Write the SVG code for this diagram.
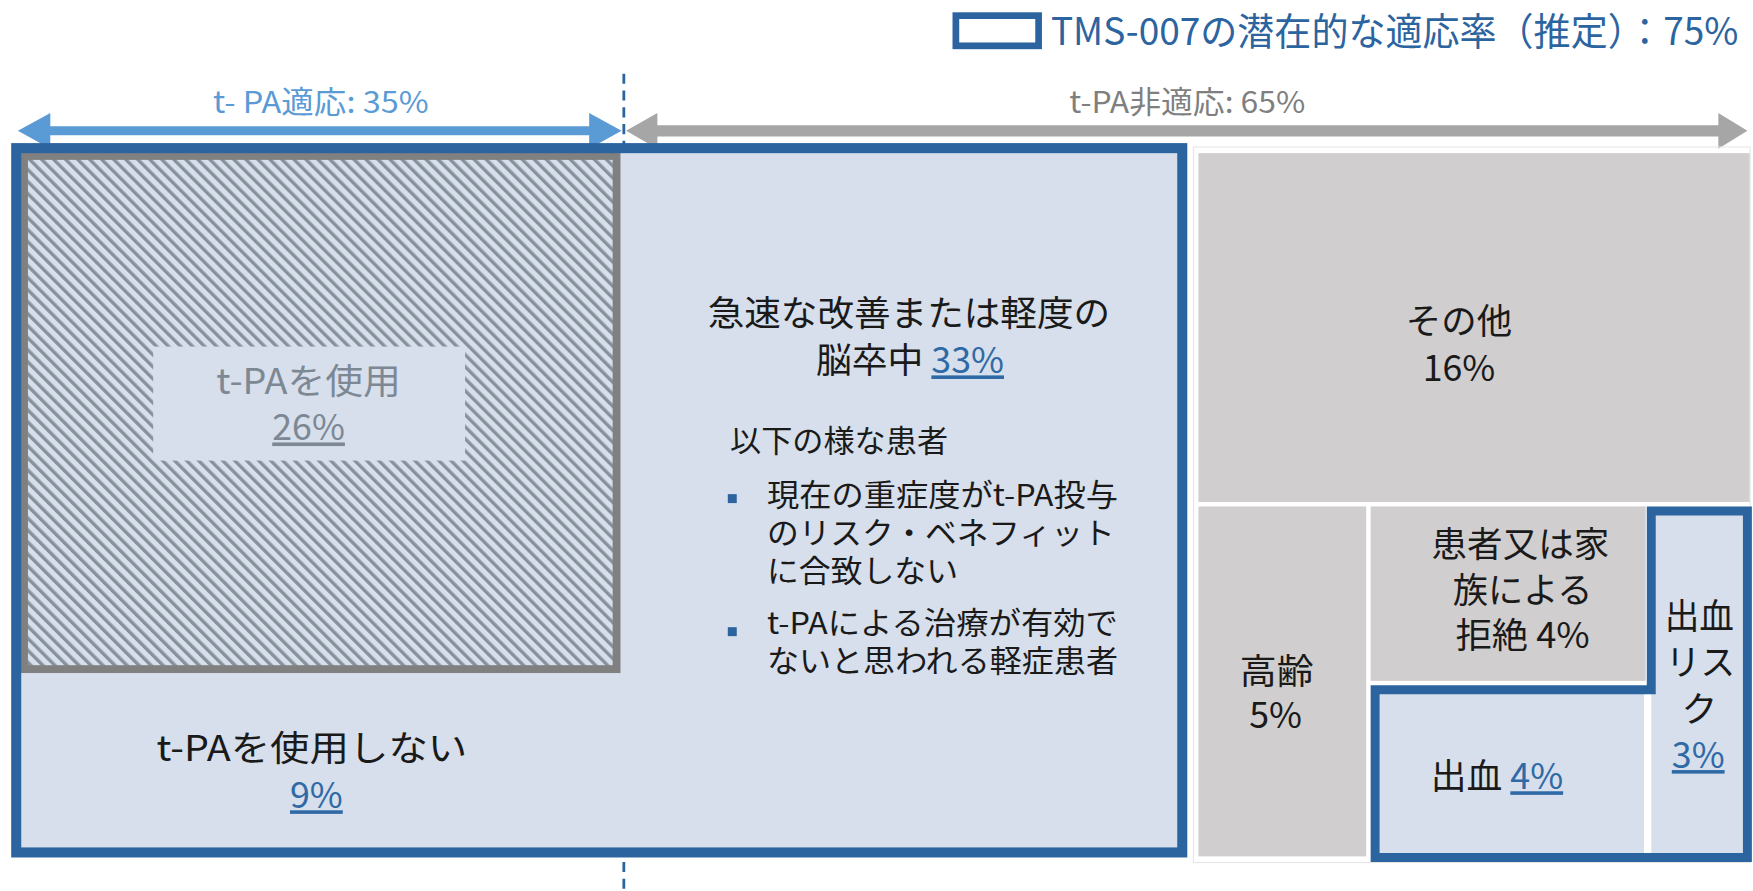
<svg xmlns="http://www.w3.org/2000/svg" width="1753" height="891" viewBox="0 0 1753 891">
<defs>
<pattern id="hatch" patternUnits="userSpaceOnUse" width="7.6" height="7.6" patternTransform="rotate(-45)">
<rect width="7.6" height="7.6" fill="#d6dfeb"/>
<rect x="0" y="0" width="3.0" height="7.6" fill="#87919c"/>
</pattern>
<style>
text{font-family:"Noto Sans CJK JP","Noto Sans",sans-serif;}
.t{font-size:32px;fill:#1a1a1a;text-anchor:middle;}
.s{font-size:27px;fill:#1a1a1a;}
.pc{fill:#2f6aa6;text-decoration:underline;}
.blue{fill:none;stroke:#2c64a0;stroke-width:9;}
.grey{fill:#d0cece;}
.light{fill:#d6dfeb;}
</style>
</defs>
<rect width="1753" height="891" fill="#ffffff"/>
<g transform="scale(1.11798)">

<g id="legend">
<rect x="855" y="14" width="74" height="27" fill="#ffffff" stroke="#2c64a0" stroke-width="6"/>
<text x="940" y="40" font-size="34" fill="#2c64a0" textLength="615" lengthAdjust="spacingAndGlyphs">TMS-007の潜在的な適応率（推定）：75%</text>
</g>

<g id="connectors">
<path d="M16,117 L45,101 L45,113 L527,113 L527,101 L556,117 L527,133 L527,121 L45,121 L45,133 Z" fill="#5b9bd5"/>
<path d="M560,117 L588,101 L588,112 L1537,112 L1537,101 L1563,117 L1537,133 L1537,122 L588,122 L588,133 Z" fill="#a6a6a6"/>
<line x1="558" y1="66" x2="558" y2="800" stroke="#2c64a0" stroke-width="2.5" stroke-dasharray="9,6"/>
</g>

<g id="label-tpa">
<text x="287" y="101" font-size="27" fill="#5b9bd5" text-anchor="middle" textLength="193" lengthAdjust="spacingAndGlyphs">t- PA適応: 35%</text>
</g>
<g id="label-non-tpa">
<text x="1062" y="101" font-size="27" fill="#7f7f7f" text-anchor="middle" textLength="211" lengthAdjust="spacingAndGlyphs">t-PA非適応: 65%</text>
</g>

<g id="tms-region">
<rect class="light" x="14.5" y="132.5" width="1043" height="630"/>
</g>

<g id="tpa-used">
<rect x="21.5" y="139.5" width="530" height="459" fill="url(#hatch)" stroke="#808080" stroke-width="7"/>
<rect class="light" x="137" y="310" width="279" height="102"/>
<text class="t" x="276" y="352" style="fill:#7d8894" textLength="165" lengthAdjust="spacingAndGlyphs">t-PAを使用</text>
<text class="t" x="276" y="394" style="fill:#7d8894;text-decoration:underline">26%</text>
</g>

<g id="tpa-not-used">
<text class="t" x="279" y="681" textLength="278" lengthAdjust="spacingAndGlyphs">t-PAを使用しない</text>
<text class="t" x="283" y="723"><tspan class="pc">9%</tspan></text>
</g>

<g id="mild-stroke">
<text class="t" x="813" y="292" textLength="360" lengthAdjust="spacingAndGlyphs">急速な改善または軽度の</text>
<text class="t" x="814" y="334">脳卒中 <tspan class="pc">33%</tspan></text>
<text class="s" x="653" y="404" textLength="195" lengthAdjust="spacingAndGlyphs">以下の様な患者</text>
<rect x="651" y="442" width="8" height="8" fill="#2c64a0"/>
<text class="s" x="686" y="453" textLength="314" lengthAdjust="spacingAndGlyphs">現在の重症度がt-PA投与</text>
<text class="s" x="686" y="487" textLength="311" lengthAdjust="spacingAndGlyphs">のリスク・ベネフィット</text>
<text class="s" x="686" y="521" textLength="171" lengthAdjust="spacingAndGlyphs">に合致しない</text>
<rect x="651" y="561" width="8" height="8" fill="#2c64a0"/>
<text class="s" x="686" y="567" textLength="314" lengthAdjust="spacingAndGlyphs">t-PAによる治療が有効で</text>
<text class="s" x="686" y="601" textLength="314" lengthAdjust="spacingAndGlyphs">ないと思われる軽症患者</text>
</g>

<rect x="1067.5" y="131.5" width="498" height="640" fill="none" stroke="#e6e6e6" stroke-width="1"/>

<g id="other">
<rect class="grey" x="1072" y="137" width="493" height="312"/>
<text class="t" x="1305" y="299" textLength="95" lengthAdjust="spacingAndGlyphs">その他</text>
<text class="t" x="1305" y="341">16%</text>
</g>

<g id="elderly">
<rect class="grey" x="1072" y="453" width="150" height="313"/>
<text class="t" x="1142" y="612" textLength="66" lengthAdjust="spacingAndGlyphs">高齢</text>
<text class="t" x="1141" y="651">5%</text>
</g>

<g id="refusal">
<rect class="grey" x="1226" y="453" width="246" height="156"/>
<text class="t" x="1360" y="498" textLength="159" lengthAdjust="spacingAndGlyphs">患者又は家</text>
<text class="t" x="1362" y="539" textLength="125" lengthAdjust="spacingAndGlyphs">族による</text>
<text class="t" x="1362" y="580" textLength="120" lengthAdjust="spacingAndGlyphs">拒絶 4%</text>
</g>

<g id="bleeding">
<rect class="light" x="1230" y="617" width="242" height="151"/>
<text class="t" x="1339" y="706">出血 <tspan class="pc">4%</tspan></text>
</g>

<g id="bleeding-risk">
<rect class="light" x="1477" y="457" width="87" height="311"/>
<text class="t" x="1520" y="563" textLength="62" lengthAdjust="spacingAndGlyphs">出血</text>
<text class="t" x="1521" y="604" textLength="62" lengthAdjust="spacingAndGlyphs">リス</text>
<text class="t" x="1520" y="646">ク</text>
<text class="t" x="1519" y="687"><tspan class="pc">3%</tspan></text>
</g>

<g id="bleeding-outline">
<line x1="1472" y1="621" x2="1472" y2="764" stroke="#ffffff" stroke-width="3"/>
<path class="blue" d="M1230,767 L1230,617 L1477,617 L1477,457 L1563,457 L1563,767 Z" style="stroke-width:8"/>
</g>

<g id="tms-frame">
<rect class="blue" x="14.5" y="132.5" width="1043" height="630"/>
</g>
</g>
</svg>
